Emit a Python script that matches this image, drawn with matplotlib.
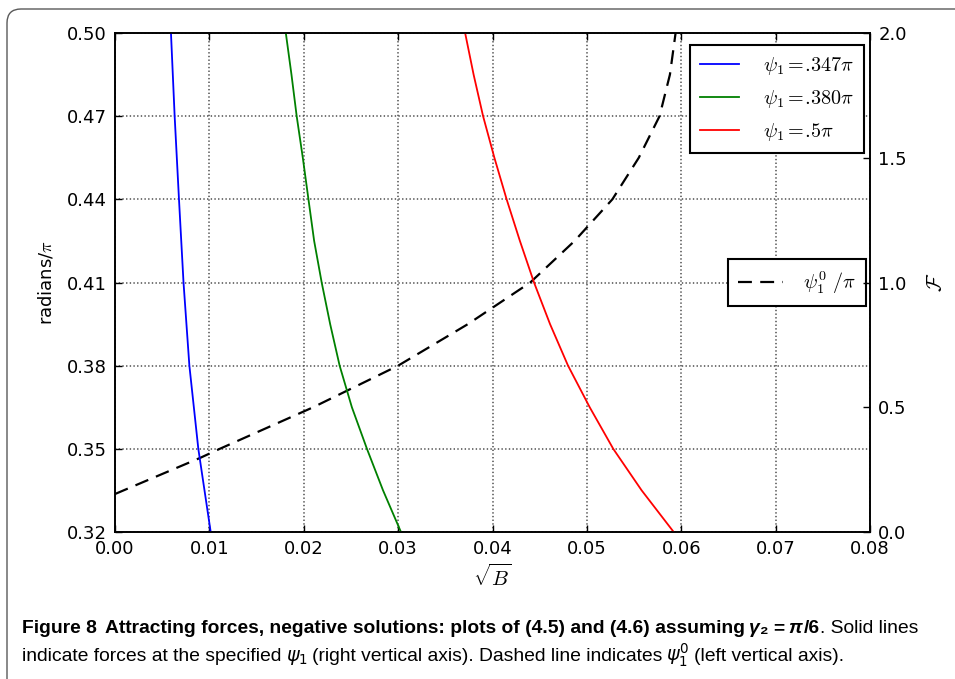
import matplotlib
matplotlib.use("Agg")
import matplotlib.pyplot as plt
from matplotlib.patches import FancyBboxPatch
from matplotlib.transforms import IdentityTransform

# ---- data ----
# solid curves: force F (right axis) vs sqrt(B)
blue_x = [0.00593, 0.00632, 0.00678, 0.00726, 0.00788, 0.00883, 0.01014]
blue_f = [2.0, 1.667, 1.333, 1.0, 0.667, 0.333, 0.0]

green_x = [0.0181, 0.0187, 0.01925, 0.0199, 0.0205, 0.0211, 0.0219, 0.0228, 0.0238, 0.0251, 0.0267, 0.0284, 0.0303]
green_f = [2.0, 1.833, 1.667, 1.5, 1.333, 1.167, 1.0, 0.833, 0.667, 0.5, 0.333, 0.167, 0.0]

red_x = [0.0371, 0.0380, 0.0390, 0.0402, 0.0415, 0.0429, 0.0444, 0.0461, 0.0480, 0.0503, 0.0528, 0.0558, 0.0592]
red_f = [2.0, 1.833, 1.667, 1.5, 1.333, 1.167, 1.0, 0.833, 0.667, 0.5, 0.333, 0.167, 0.0]

# dashed curve: psi_1^0 / pi (left axis)
psi_x = [0.0, 0.0090, 0.0111, 0.0210, 0.0300, 0.0374, 0.0440, 0.0487, 0.0527, 0.0555, 0.0577, 0.0588, 0.0594]
psi_y = [0.3337, 0.3467, 0.3500, 0.3650, 0.3800, 0.3950, 0.4100, 0.4250, 0.4400, 0.4550, 0.4700, 0.4850, 0.5000]

labels = [r"$\psi_1 =\!.\!347\pi$", r"$\psi_1 =\!.\!380\pi$", r"$\psi_1 =\!.\!5\pi$"]
left_ticks = [0.32, 0.35, 0.38, 0.41, 0.44, 0.47, 0.50]
right_ticks = [0.0, 0.5, 1.0, 1.5, 2.0]
x_ticks = [0.0, 0.01, 0.02, 0.03, 0.04, 0.05, 0.06, 0.07, 0.08]

W, H = 955, 679
plt.rcParams["font.family"] = ["DejaVu Sans"]
plt.rcParams["mathtext.fontset"] = "cm"
plt.rcParams["lines.scale_dashes"] = False

fig = plt.figure(figsize=(W / 100, H / 100), dpi=100)
fig.patch.set_facecolor("white")

# rounded frame around figure + caption
frame = FancyBboxPatch((7, -40), 1100, H - 9 + 40, boxstyle="round,pad=0,rounding_size=14",
                       transform=IdentityTransform(), fill=False, edgecolor="0.35", lw=1.0)
fig.add_artist(frame)

ax = fig.add_axes([115 / W, 1 - 532 / H, 755 / W, 499 / H])
ax2 = ax.twinx()

ax.plot(psi_x, psi_y, color="black", lw=1.6, linestyle=(0, (10, 6)), label=r"$\psi_1^0\ /\pi$")
ax2.plot(blue_x, blue_f, color="blue", lw=1.3, label=labels[0])
ax2.plot(green_x, green_f, color="green", lw=1.3, label=labels[1])
ax2.plot(red_x, red_f, color="red", lw=1.3, label=labels[2])

ax.set_xlim(0, 0.08)
ax.set_ylim(0.32, 0.50)
ax2.set_ylim(0, 2.0)

tick_font = dict(fontsize=13, family="DejaVu Sans")
ax.set_xticks(x_ticks)
ax.set_xticklabels([f"{v:.2f}" for v in x_ticks], **tick_font)
ax.set_yticks(left_ticks)
ax.set_yticklabels([f"{v:.2f}" for v in left_ticks], **tick_font)
ax2.set_yticks(right_ticks)
ax2.set_yticklabels([f"{v:.1f}" for v in right_ticks], **tick_font)

ax.tick_params(direction="in", length=5, width=1, top=True, right=False, pad=6)
ax2.tick_params(direction="in", length=5, width=1, pad=6)
ax2.tick_params(axis="x", top=False, bottom=False)

ax.grid(True, linestyle=":", color="0.3", lw=1.1)
for a in (ax, ax2):
    for s in a.spines.values():
        s.set_linewidth(1.2)

ax.set_xlabel(r"$\sqrt{B}$", fontsize=15, labelpad=4)
ax.set_ylabel(r"radians/$\pi$", fontsize=13, labelpad=8, family="DejaVu Sans")
ax2.set_ylabel(r"$\mathcal{F}$", fontsize=15, labelpad=14)

leg1 = ax2.legend(loc="upper right", bbox_to_anchor=(0.992, 0.976), borderaxespad=0,
                  fontsize=14.5, fancybox=False, framealpha=1, edgecolor="black",
                  handlelength=1.9, handletextpad=1.2, borderpad=0.5, labelspacing=0.55)
leg1.get_frame().set_linewidth(1.5)
leg2 = ax.legend(loc="center right", bbox_to_anchor=(0.995, 0.5), borderaxespad=0,
                 fontsize=14.5, fancybox=False, framealpha=1, edgecolor="black",
                 handlelength=2.2, handletextpad=1.0, borderpad=0.5)
leg2.get_frame().set_linewidth(1.5)

# ---- caption ----
cap_font = ["Liberation Sans", "DejaVu Sans"]
renderer = fig.canvas.get_renderer()


def styles(fs):
    b = dict(family=cap_font, fontsize=fs, fontweight="bold")
    bi = dict(family=cap_font, fontsize=fs, fontweight="bold", fontstyle="italic")
    n = dict(family=cap_font, fontsize=fs)
    nm = dict(family=cap_font, fontsize=fs, math_fontfamily="dejavusans")
    return b, bi, n, nm


def caption_runs(fs):
    b, bi, n, nm = styles(fs)
    sp = fs * 0.3
    line1 = [
        ("Figure 8", b, 0),
        ("Attracting forces, negative solutions: plots of (4.5) and (4.6) assuming", b, 2 * sp),
        ("\u03b3", bi, sp),
        ("\u2082", b, 0),
        ("=", b, sp),
        ("\u03c0", bi, sp),
        ("/6", b, sp * 0.5),
        (". Solid lines", n, 0),
    ]
    line2 = [
        ("indicate forces at the specified", n, 0),
        (r"$\psi_1$", nm, sp),
        ("(right vertical axis). Dashed line indicates", n, sp),
        (r"$\psi_1^0$", nm, sp),
        ("(left vertical axis).", n, sp),
    ]
    return line1, line2


def draw_runs(x, y, runs):
    texts = []
    for text, kw, gap in runs:
        x += gap
        t = fig.text(x / W, y / H, text, ha="left", va="baseline", **kw)
        x = t.get_window_extent(renderer).x1
        texts.append(t)
    return x, texts


# size the caption so line 1 spans the same width as in the reference
fs = 13
end, tmp = draw_runs(22, H - 633, caption_runs(fs)[0])
for t in tmp:
    t.remove()
fs = fs * (918 - 22) / (end - 22)

line1, line2 = caption_runs(fs)
draw_runs(22, H - 633, line1)
draw_runs(22, H - 661, line2)

fig.savefig("out.png", dpi=100)
